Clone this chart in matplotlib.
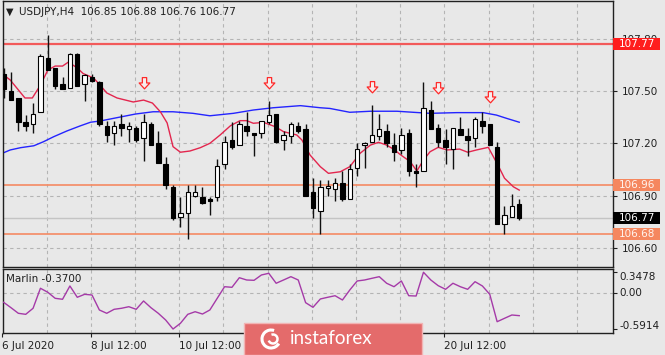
import numpy as np
import matplotlib
matplotlib.use('Agg')
import matplotlib.pyplot as plt
from matplotlib.patches import Rectangle, Arc
from matplotlib.path import Path
from matplotlib.transforms import IdentityTransform

# ---------------- data ----------------
opens = [107.60, 107.50, 107.46, 107.32, 107.31, 107.38, 107.69, 107.63, 107.54, 107.52,
         107.71, 107.54, 107.58, 107.55, 107.30, 107.26, 107.31, 107.28, 107.29, 107.23,
         107.31, 107.20, 107.08, 106.95, 106.78, 106.80, 106.90, 106.89, 106.88, 106.89,
         107.08, 107.22, 107.19, 107.30, 107.26, 107.26, 107.32, 107.37, 107.22, 107.24,
         107.30, 107.28, 106.92, 106.81, 106.945, 106.94, 106.97, 106.88, 107.06, 107.19,
         107.21, 107.24, 107.27, 107.19, 107.16, 107.26, 107.04, 107.04, 107.39, 107.29,
         107.22, 107.17, 107.28, 107.24, 107.23, 107.33, 107.31, 107.18, 106.74, 106.78,
         106.85]
highs = [107.63, 107.61, 107.46, 107.36, 107.43, 107.71, 107.82, 107.63, 107.58, 107.72,
         107.72, 107.60, 107.60, 107.56, 107.33, 107.33, 107.37, 107.32, 107.30, 107.37,
         107.32, 107.27, 107.12, 106.96, 106.89, 106.96, 106.96, 106.95, 106.89, 107.11,
         107.24, 107.32, 107.33, 107.38, 107.26, 107.33, 107.44, 107.37, 107.27, 107.32,
         107.32, 107.31, 107.00, 106.99, 106.99, 107.00, 107.04, 107.08, 107.20, 107.21,
         107.42, 107.37, 107.31, 107.26, 107.29, 107.28, 107.08, 107.55, 107.44, 107.31,
         107.28, 107.29, 107.35, 107.29, 107.35, 107.38, 107.31, 107.21, 106.84, 106.91,
         106.88]
lows = [107.46, 107.45, 107.27, 107.27, 107.26, 107.38, 107.62, 107.51, 107.51, 107.52,
        107.53, 107.44, 107.55, 107.30, 107.21, 107.19, 107.24, 107.21, 107.21, 107.10,
        107.19, 107.09, 106.94, 106.76, 106.72, 106.65, 106.89, 106.85, 106.79, 106.87,
        107.05, 107.17, 107.19, 107.24, 107.13, 107.23, 107.31, 107.20, 107.16, 107.20,
        107.26, 106.90, 106.77, 106.68, 106.90, 106.87, 106.87, 106.88, 107.01, 107.06,
        107.21, 107.22, 107.18, 107.10, 107.14, 107.01, 106.95, 107.04, 107.28, 107.18,
        107.08, 107.05, 107.25, 107.13, 107.18, 107.26, 107.19, 106.74, 106.68, 106.78,
        106.76]
closes = [107.51, 107.45, 107.32, 107.30, 107.37, 107.70, 107.62, 107.53, 107.51, 107.71,
          107.53, 107.59, 107.56, 107.31, 107.25, 107.30, 107.29, 107.30, 107.22, 107.32,
          107.19, 107.09, 106.96, 106.77, 106.80, 106.92, 106.92, 106.86, 106.87, 107.07,
          107.21, 107.18, 107.31, 107.27, 107.25, 107.33, 107.36, 107.21, 107.25, 107.31,
          107.27, 106.90, 106.83, 106.95, 106.955, 106.97, 106.88, 107.05, 107.17, 107.20,
          107.25, 107.28, 107.20, 107.15, 107.25, 107.04, 107.03, 107.40, 107.28, 107.21,
          107.18, 107.29, 107.25, 107.22, 107.34, 107.30, 107.19, 106.74, 106.79, 106.84,
          106.77]

# red moving average (read at points: candle index, price)
red_idx = [0, 0.9, 2.9, 3.9, 5, 6, 7, 8, 8.8, 10, 10.8, 12.2, 13.1, 14, 15.4, 17.6, 19,
           20.2, 21.3, 22.2, 23, 24, 25.3, 26.7, 28, 29.4, 30.8, 32.1, 33, 33.9, 35.3,
           36.9, 38, 39.8, 40.5, 41.6, 43, 44.1, 45.7, 47, 48.4, 49.8, 50.9, 52, 53.1,
           53.8, 55.2, 56.1, 57, 57.9, 59, 60.2, 61.9, 63, 64.2, 65.8, 67.1, 68, 69.2, 70]
red_val = [107.592, 107.563, 107.46, 107.46, 107.534, 107.62, 107.643, 107.643, 107.666,
           107.632, 107.60, 107.575, 107.534, 107.489, 107.46, 107.437, 107.448, 107.431,
           107.38, 107.317, 107.181, 107.149, 107.156, 107.175, 107.20, 107.248, 107.301,
           107.33, 107.33, 107.315, 107.32, 107.295, 107.267, 107.248, 107.219, 107.133,
           107.066, 107.028, 107.037, 107.066, 107.143, 107.19, 107.206, 107.19, 107.162,
           107.137, 107.095, 107.041, 107.104, 107.152, 107.177, 107.162, 107.167, 107.149,
           107.162, 107.177, 107.076, 107.0, 106.951, 106.932]

# blue moving average
blue_idx = [0, 0.9, 2.3, 4.1, 5.4, 6.8, 8.6, 10.4, 11.8, 13.1, 14.9, 16.7, 17.9, 20.3,
            23, 25.7, 28, 31.2, 33.9, 36.6, 40.3, 43, 44.3, 47, 49.8, 53.4, 55.6, 57.9,
            61.5, 65.1, 66.9, 68.3, 70]
blue_val = [107.146, 107.162, 107.175, 107.186, 107.209, 107.238, 107.271, 107.30,
            107.321, 107.328, 107.343, 107.358, 107.368, 107.381, 107.381, 107.372,
            107.358, 107.372, 107.391, 107.404, 107.416, 107.404, 107.40, 107.378,
            107.384, 107.384, 107.378, 107.372, 107.376, 107.376, 107.362, 107.343,
            107.321]

# signal arrows
arrow_idx = [19, 36, 50, 59, 66]
arrow_val = [107.544, 107.544, 107.521, 107.515, 107.467]

# Marlin indicator
marlin = [-0.149, -0.238, -0.331, -0.348, -0.248, 0.083, 0.017, -0.083, -0.099, 0.121,
          -0.066, -0.017, -0.028, -0.276, -0.331, -0.265, -0.248, -0.222, -0.265, -0.127,
          -0.238, -0.331, -0.442, -0.591, -0.497, -0.348, -0.305, -0.343, -0.276, -0.083,
          0.109, 0.099, 0.258, 0.220, 0.215, 0.303, 0.331, 0.166, 0.220, 0.275,
          0.220, -0.155, -0.232, -0.094, -0.066, -0.040, -0.111, 0.055, 0.204, 0.220,
          0.248, 0.275, 0.166, 0.109, 0.204, -0.040, -0.045, 0.348, 0.220, 0.126,
          0.066, 0.166, 0.109, 0.066, 0.192, 0.121, -0.017, -0.470, -0.414, -0.359,
          -0.370]

levels = [107.77, 106.96, 106.68]
level_colors = ['#f25a5a', '#f58a63', '#f58a63']
last_price = 106.77

price_ticks = [107.80, 107.50, 107.20, 106.90, 106.60]
time_tick_idx = [0, 12, 24, 60]
time_labels = ['6 Jul 2020', '8 Jul 12:00', '10 Jul 12:00', '20 Jul 12:00']
marlin_ticks = [0.3478, 0.0, -0.5914]
marlin_labels = ['0.3478', '0.00', '-0.5914']

title = 'USDJPY,H4  106.85 106.88 106.76 106.77'
marlin_title = 'Marlin -0.3700'

# ---------------- figure ----------------
W, H = 665, 355
DPI = 100
bg = '#e8e8e8'
plt.rcParams['font.family'] = ['DejaVu Sans']
FS = 7.5

fig = plt.figure(figsize=(W / DPI, H / DPI), dpi=DPI)
fig.patch.set_facecolor(bg)

L, R = 2.5, 613
ax = fig.add_axes([L / W, 1 - 267 / H, (R - L) / W, (267 - 1) / H])
ax2 = fig.add_axes([L / W, 1 - 333 / H, (R - L) / W, (333 - 269) / H], sharex=ax)

n = len(opens)
x = np.arange(n)
ax.set_xlim(-0.11, 82.73)
ax.set_ylim(106.491, 108.016)
ax2.set_ylim(-0.657, 0.402)

for a in (ax, ax2):
    a.set_facecolor(bg)
    for s in a.spines.values():
        s.set_color('#202020')
        s.set_linewidth(1.0)

grid_kw = dict(color='#b4b4b4', lw=0.8, dashes=(3, 3), zorder=0.5)
for k in range(1, 14):
    gx = 6 * k - 0.15
    ax.axvline(gx, **grid_kw)
    ax2.axvline(gx, **grid_kw)
for p in price_ticks:
    ax.axhline(p, **grid_kw)
ax2.axhline(0, **grid_kw)

# level lines
ax.axhline(last_price, color='#c4c4c4', lw=1.0, zorder=0.8)
for lv, lc in zip(levels, level_colors):
    ax.axhline(lv, color=lc, lw=1.6 if lv == levels[0] else 1.2, zorder=0.9)

# moving averages
ax.plot(blue_idx, blue_val, color='#2424ff', lw=1.0, zorder=2)
ax.plot(red_idx, red_val, color='#e3264e', lw=1.0, zorder=2)

# candles
o = np.array(opens); c = np.array(closes)
hi = np.array(highs); lo = np.array(lows)
ax.vlines(x, lo, hi, color='#101010', lw=1.0, zorder=3)
bottoms = np.minimum(o, c)
heights = np.maximum(np.abs(c - o), 0.006)
colors = ['white' if cc > oo else 'black' for oo, cc in zip(o, c)]
ax.bar(x, heights, bottom=bottoms, width=0.6, color=colors, edgecolor='black',
       linewidth=0.8, zorder=4)

# arrows
arr = Path([(-0.2, 0.55), (0.2, 0.55), (0.2, 0.05), (0.5, 0.05), (0, -0.5),
            (-0.5, 0.05), (-0.2, 0.05), (-0.2, 0.55)],
           [Path.MOVETO] + [Path.LINETO] * 6 + [Path.CLOSEPOLY])
ax.plot(arrow_idx, arrow_val, ls='none', marker=arr, markersize=8.5,
        markerfacecolor='#f6eeee', markeredgecolor='#ff2a2a', markeredgewidth=0.9,
        zorder=5)

# marlin
ax2.plot(x, marlin, color='#a53aa8', lw=1.0, zorder=3)

# axes ticks
ax.yaxis.tick_right()
ax.set_yticks(price_ticks)
ax.set_yticklabels(['%.2f' % p for p in price_ticks])
ax.tick_params(axis='y', length=3, width=0.8, pad=3, labelsize=FS, colors='#202020')
ax.tick_params(axis='x', bottom=False, labelbottom=False)

ax2.yaxis.tick_right()
ax2.set_yticks(marlin_ticks)
ax2.set_yticklabels([])
ax2.tick_params(axis='y', length=3, width=0.8, labelsize=FS, colors='#202020')
ax2.set_xticks(np.array(time_tick_idx) - 0.15)
ax2.set_xticklabels(time_labels, ha='left')
ax2.tick_params(axis='x', length=3, width=0.8, pad=3, labelsize=FS, colors='#202020')

fig.canvas.draw()

# marlin scale labels (MT4 keeps the extreme labels inside the window)
for lab, ypix in zip(marlin_labels, [277.3, 293.3, 326.0]):
    fig.text(619 / W, 1 - ypix / H, lab, fontsize=FS, ha='left', va='center',
             color='#202020')

# value boxes on the price scale
def pbox(price, text, face, tcol):
    _, yd = ax.transData.transform((0, price))
    fig.add_artist(Rectangle((613, yd - 6), 47, 12, transform=IdentityTransform(),
                             facecolor=face, edgecolor='none', zorder=4))
    fig.text(619 / W, yd / H, text, color=tcol, fontsize=FS, va='center', ha='left',
             zorder=6)

pbox(levels[0], '%.2f' % levels[0], '#ff1e1e', 'white')
pbox(levels[1], '%.2f' % levels[1], '#f5875f', '#fff4ee')
pbox(last_price, '%.2f' % last_price, '#000000', 'white')
pbox(levels[2], '%.2f' % levels[2], '#f5875f', '#fff4ee')

# titles
fig.text(10 / W, 1 - 12 / H, '\u25bc', fontsize=7, ha='center', va='center',
         color='#202020')
fig.text(19 / W, 1 - 12.3 / H, title, fontsize=FS, ha='left', va='center',
         color='#202020')
fig.text(6.5 / W, 1 - 279 / H, marlin_title, fontsize=FS, ha='left', va='center',
         color='#202020')

# watermark
fig.add_artist(Rectangle((244 / W, 0), (422 - 244) / W, (355 - 323) / H,
                         transform=fig.transFigure, facecolor='#e46b6b',
                         edgecolor='#f2b4b4', lw=1.0, zorder=7))
fig.add_artist(Arc((271, H - 339), 18, 18, theta1=70, theta2=330,
                   transform=IdentityTransform(), color='white', lw=2.2, zorder=8))
fig.add_artist(Arc((273, H - 339), 9, 9, theta1=200, theta2=470,
                   transform=IdentityTransform(), color='white', lw=1.8, zorder=8))
fig.text(331 / W, 1 - 339 / H, 'instaforex', color='white', fontsize=13.5,
         family=['Lato', 'DejaVu Sans'], fontweight='normal', ha='center',
         va='center', zorder=8)

fig.savefig('out.png', dpi=DPI, facecolor=bg)
